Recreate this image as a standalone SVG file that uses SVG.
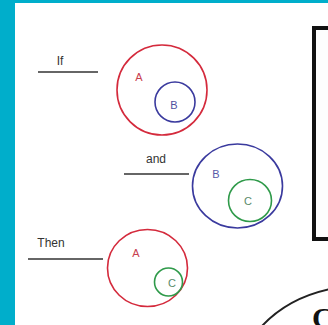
<svg xmlns="http://www.w3.org/2000/svg" width="328" height="325" viewBox="0 0 328 325">
<style>
.lbl{font-family:"Liberation Sans",Arial,sans-serif;font-size:12px;fill:#333;text-anchor:middle}
.sm{font-family:"Liberation Sans",Arial,sans-serif;font-size:11px;text-anchor:middle}
.ln{stroke:#333;stroke-width:1.6}
.red{fill:none;stroke:#d42a3c;stroke-width:1.6}
.blue{fill:none;stroke:#3a3a9e;stroke-width:1.6}
.green{fill:none;stroke:#2f9a4a;stroke-width:1.6}
</style>
<rect x="0" y="0" width="328" height="325" fill="#ffffff"/>
<rect x="0" y="0" width="328" height="3" fill="#00aecb"/>
<rect x="0" y="0" width="15" height="325" fill="#00aecb"/>
<g id="connectors">
<line class="ln" x1="38" y1="72" x2="98" y2="72"/>
<line class="ln" x1="124" y1="174" x2="189" y2="174"/>
<line class="ln" x1="28" y1="259" x2="103" y2="259"/>
</g>
<g id="if-label"><text class="lbl" x="60" y="65">If</text></g>
<g id="and-label"><text class="lbl" x="156" y="163">and</text></g>
<g id="then-label"><text class="lbl" x="51" y="247">Then</text></g>
<g id="setA1">
<circle class="red" cx="162" cy="90" r="45"/>
<text class="sm" x="139" y="81" fill="#c8404e">A</text>
</g>
<g id="setB1">
<circle class="blue" cx="175" cy="102" r="20"/>
<text class="sm" x="174" y="109" fill="#5050a0">B</text>
</g>
<g id="setB2">
<ellipse class="blue" cx="237.5" cy="186" rx="45" ry="42"/>
<text class="sm" x="216" y="178" fill="#5858a8">B</text>
</g>
<g id="setC2">
<ellipse class="green" cx="250" cy="200.5" rx="21.5" ry="21"/>
<text class="sm" x="248" y="205" fill="#5a8a6a">C</text>
</g>
<g id="setA3">
<ellipse class="red" cx="147.5" cy="268" rx="40" ry="38.5"/>
<text class="sm" x="136" y="257" fill="#c8404e">A</text>
</g>
<g id="setC3">
<circle class="green" cx="168.5" cy="282" r="14"/>
<text class="sm" x="172" y="287" fill="#5a8a6a">C</text>
</g>
<g id="box">
<rect x="314" y="28" width="30" height="211" fill="#fdfdfd" stroke="#111" stroke-width="4"/>
</g>
<g id="bottom-right">
<path d="M262 326 Q288 298 330 289" fill="none" stroke="#222" stroke-width="2"/>
<text x="312" y="328" font-family="Liberation Serif,Times New Roman,serif" font-size="30" font-weight="bold" fill="#111">C</text>
</g>
</svg>
